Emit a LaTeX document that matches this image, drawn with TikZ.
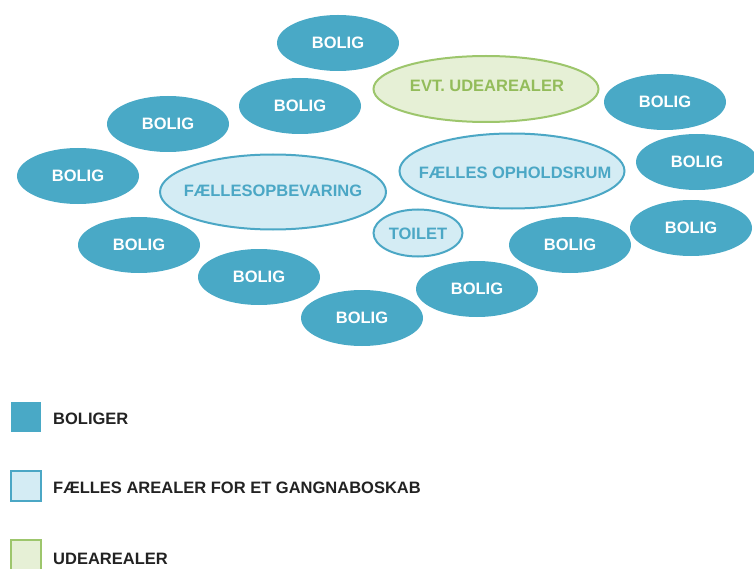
\documentclass[tikz,border=0pt]{standalone}
\usepackage{fontspec}
\setmainfont{Liberation Sans}
\usetikzlibrary{shapes.geometric}
\definecolor{boligfill}{HTML}{49A9C6}
\definecolor{faelfill}{HTML}{D4ECF4}
\definecolor{faelline}{HTML}{4BA7C5}
\definecolor{udefill}{HTML}{E6F0D6}
\definecolor{udeline}{HTML}{9DC66C}
\definecolor{udetext}{HTML}{93BC5A}
\definecolor{legtext}{HTML}{222222}
\tikzset{
  lbl/.style={font=\fontsize{16.5bp}{18bp}\selectfont\bfseries},
  boligshape/.style={ellipse, fill=boligfill, inner sep=0pt,
    minimum width=122bp, minimum height=56bp},
  faelles/.style={ellipse, fill=faelfill, draw=faelline, line width=2bp, inner sep=0pt},
  ude/.style={ellipse, fill=udefill, draw=udeline, line width=2bp, inner sep=0pt},
  boligtxt/.style={lbl, text=white, inner sep=0pt},
  faeltxt/.style={lbl, text=faelline, inner sep=0pt},
  legbox/.style={minimum width=30bp, minimum height=30bp, inner sep=0pt},
  legtxt/.style={lbl, text=legtext, anchor=west, inner sep=0pt}
}
\newcommand{\boligat}[2]{%
  \node[boligshape] (#1) at (#2) {};
  \node[boligtxt] (#1txt) at (#1.center) {BOLIG};}
\begin{document}
\begin{tikzpicture}[x=1bp,y=-1bp]
\useasboundingbox (0,0) rectangle (754,569);
\clip (0,0) rectangle (754,569);
% common areas
\node[ude, minimum width=225bp, minimum height=66bp] (udeareal) at (486,89) {};
\node[lbl, text=udetext, inner sep=0pt] (udelbl) at (487,86) {EVT. UDEAREALER};
\node[faelles, minimum width=225bp, minimum height=75bp] (opholdsrum) at (512,171) {};
\node[faeltxt] (opholdlbl) at (515,173) {FÆLLES OPHOLDSRUM};
\node[faelles, minimum width=226bp, minimum height=75bp] (opbevaring) at (273,192) {};
\node[faeltxt] (opbevlbl) at (273,191) {FÆLLESOPBEVARING};
\node[faelles, minimum width=89bp, minimum height=47bp] (toilet) at (418,233) {};
\node[faeltxt] (toiletlbl) at (418,234) {TOILET};
% dwellings
\boligat{b1}{338,43}
\boligat{b2}{300,106}
\boligat{b3}{168,124}
\boligat{b4}{78,176}
\boligat{b5}{139,245}
\boligat{b6}{259,277}
\boligat{b7}{362,318}
\boligat{b8}{477,289}
\boligat{b9}{570,245}
\boligat{b10}{691,228}
\boligat{b11}{697,162}
\boligat{b12}{665,102}
% legend
\node[legbox, fill=boligfill] (k1) at (26,417) {};
\node[legtxt] (t1) at (53,419) {BOLIGER};
\node[legbox, fill=faelfill, draw=faelline, line width=2bp] (k2) at (26,486) {};
\node[legtxt] (t2) at (53,488) {FÆLLES AREALER FOR ET GANGNABOSKAB};
\node[legbox, fill=udefill, draw=udeline, line width=2bp] (k3) at (26,555) {};
\node[legtxt] (t3) at (53,559) {UDEAREALER};
\end{tikzpicture}
\end{document}
